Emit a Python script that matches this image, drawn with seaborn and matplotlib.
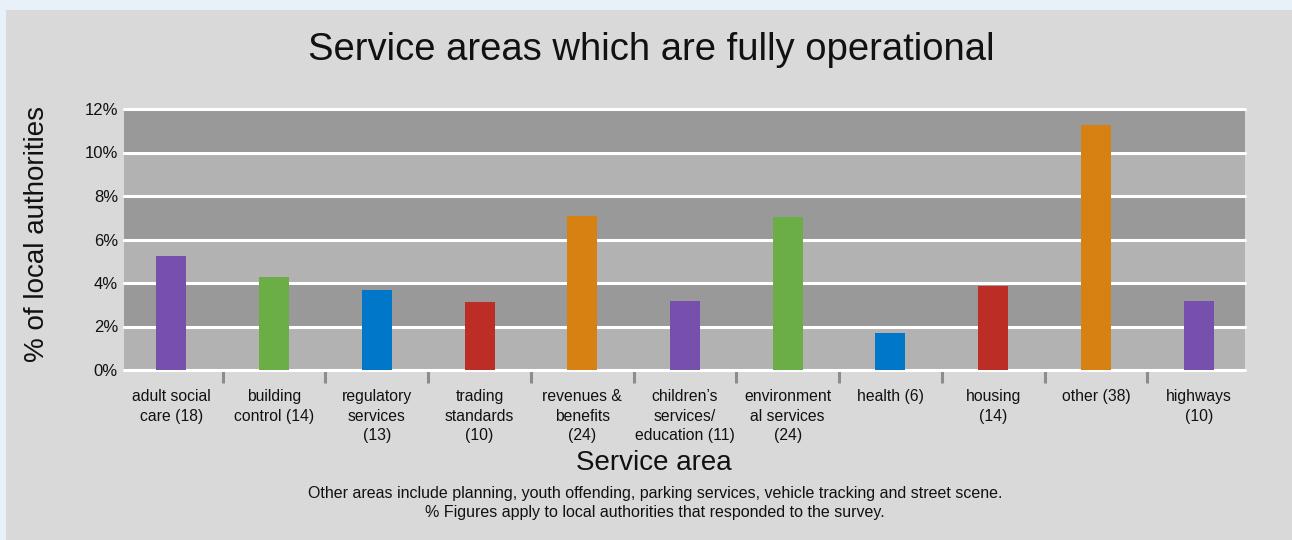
import matplotlib
matplotlib.use("Agg")
import matplotlib.pyplot as plt
from matplotlib.patches import Rectangle
import seaborn as sns
import pandas as pd

# Service areas, share of responding local authorities (%) and bar colours
areas = [
    "adult social\ncare (18)",
    "building\ncontrol (14)",
    "regulatory\nservices\n(13)",
    "trading\nstandards\n(10)",
    "revenues &\nbenefits\n(24)",
    "children\u2019s\nservices/\neducation (11)",
    "environment\nal services\n(24)",
    "health (6)",
    "housing\n(14)",
    "other (38)",
    "highways\n(10)",
]
pct = [5.24, 4.28, 3.68, 3.13, 7.08, 3.17, 7.03, 1.70, 3.86, 11.26, 3.17]
bar_colors = ["#7750ad", "#6aae45", "#0077c8", "#bc2d26", "#d68112",
              "#7750ad", "#6aae45", "#0077c8", "#bc2d26", "#d68112",
              "#7750ad"]
y_ticks = [0, 2, 4, 6, 8, 10, 12]
y_tick_labels = ["0%", "2%", "4%", "6%", "8%", "10%", "12%"]

title = "Service areas which are fully operational"
x_title = "Service area"
y_title = "% of local authorities"
notes = ("Other areas include planning, youth offending, parking services, "
         "vehicle tracking and street scene.\n"
         "% Figures apply to local authorities that responded to the survey.")

sns.set_style("white")
plt.rcParams["font.family"] = ["Liberation Sans", "DejaVu Sans"]

W, H = 1292, 540
fig = plt.figure(figsize=(W / 100, H / 100), dpi=100)
fig.patch.set_facecolor("#e8f0fa")
# grey card behind the chart
fig.patches.append(Rectangle((6 / W, 0), 1 - 6 / W, 1 - 10 / H,
                             transform=fig.transFigure, facecolor="#d9d9d9",
                             edgecolor="none", zorder=-5))

# category slots run 120-1250 px, the banded plot area 124-1245 px
ax_l, ax_r = 120, 1250
ax = fig.add_axes([ax_l / W, 1 - 370 / H, (ax_r - ax_l) / W, (370 - 109) / H])
ax.set_zorder(2)
ax.set_facecolor("none")
band_x0 = (124 - ax_l) / (ax_r - ax_l)
band_x1 = (1245 - ax_l) / (ax_r - ax_l)

# alternating horizontal bands with white rules between them
for i in range(len(y_ticks) - 1):
    ax.axhspan(y_ticks[i], y_ticks[i + 1], xmin=band_x0, xmax=band_x1,
               color="#b2b2b2" if i % 2 == 0 else "#999999",
               lw=0, zorder=0)
for t in y_ticks:
    ax.axhline(t, xmin=band_x0, xmax=band_x1, color="white", lw=2.2,
               zorder=1, clip_on=False)

df = pd.DataFrame({"area": areas, "pct": pct})
sns.barplot(data=df, x="area", y="pct", hue="area", palette=bar_colors,
            legend=False, width=0.292, saturation=1, ax=ax, zorder=3,
            edgecolor="none", linewidth=0)

ax.set_xlim(-0.5, len(areas) - 0.5)
ax.set_ylim(0, 12)
for s in ax.spines.values():
    s.set_visible(False)

ax.set_yticks(y_ticks)
ax.set_yticklabels(y_tick_labels)
ax.tick_params(axis="y", length=0, pad=1.5, labelsize=12, labelcolor="#111111")

ax.set_xticks(range(len(areas)))
ax.set_xticklabels(areas, linespacing=1.35)
ax.tick_params(axis="x", which="major", length=0, pad=14, labelsize=11.3,
               labelcolor="#111111")
for lbl in ax.get_xticklabels():
    lbl.set_verticalalignment("top")
# short grey separators between categories
ax.set_xticks([i + 0.5 for i in range(len(areas) - 1)], minor=True)
ax.tick_params(axis="x", which="minor", bottom=True, length=9, width=2.2,
               color="#8c8c8c", direction="out")
ax.set_xlabel("")
ax.set_ylabel("")

fig.text(651.5 / W, 1 - 50 / H, title, ha="center", va="center",
         fontsize=27.5, color="#111111")
fig.text(37 / W, 1 - 234 / H, y_title, ha="center", va="center",
         rotation=90, fontsize=20, color="#111111")
fig.text(653.5 / W, 1 - 463 / H, x_title, ha="center", va="center",
         fontsize=20, color="#111111")
fig.text(655 / W, 1 - 503 / H, notes, ha="center", va="center",
         fontsize=11.5, linespacing=1.35, color="#111111")

fig.savefig("out.png", dpi=100, facecolor=fig.get_facecolor())
